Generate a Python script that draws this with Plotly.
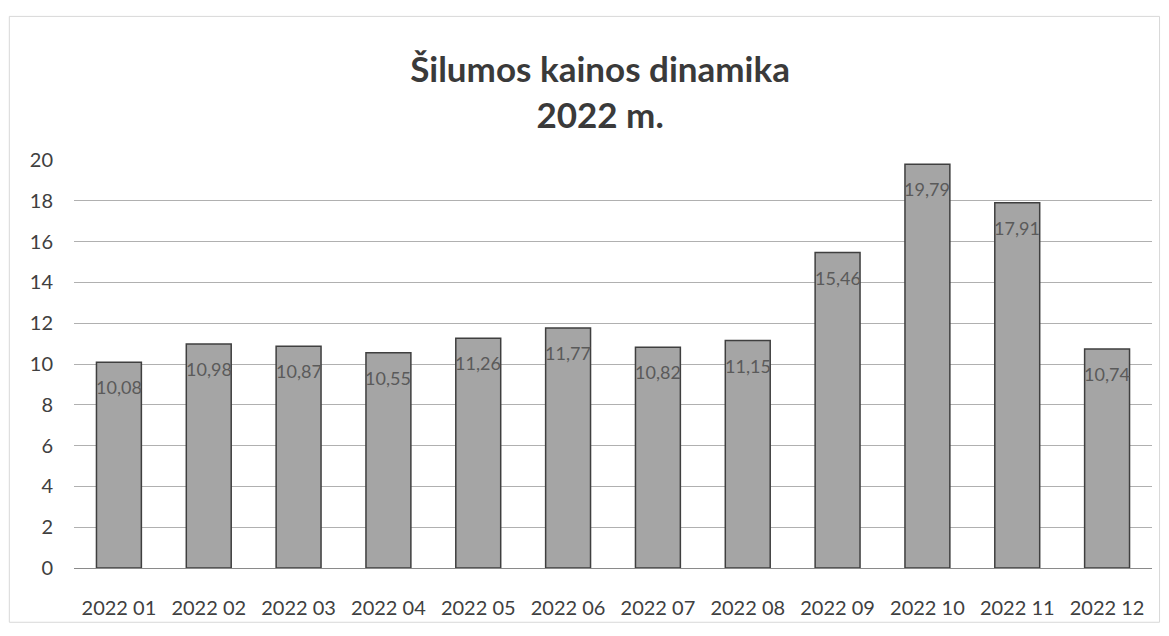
import plotly.graph_objects as go

months = ["2022 01", "2022 02", "2022 03", "2022 04", "2022 05", "2022 06",
          "2022 07", "2022 08", "2022 09", "2022 10", "2022 11", "2022 12"]
prices = [10.08, 10.98, 10.87, 10.55, 11.26, 11.77, 10.82, 11.15, 15.46, 19.79, 17.91, 10.74]
labels = [f"{v:.2f}".replace(".", ",") for v in prices]
y_ticks = [0, 2, 4, 6, 8, 10, 12, 14, 16, 18, 20]

FONT = "Lato, 'Open Sans', sans-serif"

fig = go.Figure()
fig.add_trace(go.Bar(
    x=months, y=prices,
    marker=dict(color="#a5a5a5", line=dict(color="#3f3f3f", width=1.5)),
    width=0.5,
    hoverinfo="skip",
))

for m, v, t in zip(months, prices, labels):
    fig.add_annotation(x=m, y=v, text=t, showarrow=False, yshift=-25,
                       yanchor="middle", xanchor="center",
                       font=dict(family=FONT, size=18, color="#5a5a5a"))

fig.update_layout(
    width=1153, height=620,
    margin=dict(l=66, r=9, t=152, b=56),
    paper_bgcolor="white", plot_bgcolor="white",
    showlegend=False,
    bargap=0.5,
    title=dict(text="<b>Šilumos kainos dinamika</b><br><b>2022 m.</b>", x=0.488, xref="paper",
               xanchor="center", y=0.880, yref="container", yanchor="top",
               font=dict(family=FONT, size=35, color="#3a3a3a")),
    xaxis=dict(showgrid=False, showline=True, linecolor="#8a8a8a", linewidth=1,
               ticks="outside", ticklen=22, tickcolor="rgba(0,0,0,0)",
               tickfont=dict(family=FONT, size=20, color="#404040")),
    yaxis=dict(range=[0, 20], tickvals=y_ticks, showgrid=True,
               gridcolor="#b0b0b0", gridwidth=1, zeroline=False, showline=False,
               ticklabelstandoff=20,
               tickfont=dict(family=FONT, size=20, color="#404040")),
)

fig.add_shape(type="rect", xref="paper", yref="paper",
              x0=-0.060, x1=1.007, y0=-0.133, y1=1.352,
              line=dict(color="#d8d8d8", width=1), layer="below")

fig.write_html("out.html")
